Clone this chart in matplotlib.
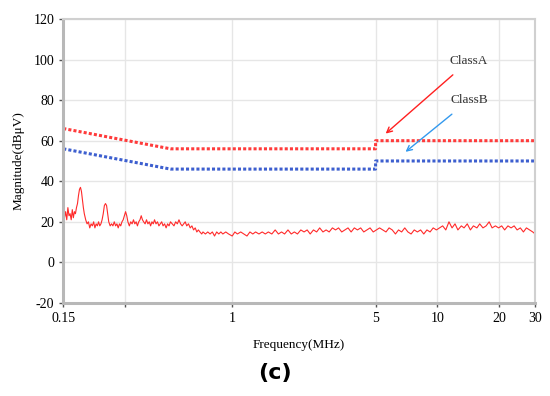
import numpy as np
import matplotlib.pyplot as plt
from matplotlib.ticker import FixedLocator, NullLocator, FixedFormatter

# limit lines (MHz, dBuV)
class_a_f = [0.15, 0.5, 5.0, 5.0, 30.0]
class_a_db = [66, 56, 56, 60, 60]
class_b_f = [0.15, 0.5, 5.0, 5.0, 30.0]
class_b_db = [56, 46, 46, 50, 50]

meas_f = [0.150, 0.152, 0.154, 0.156, 0.158, 0.160, 0.162, 0.164, 0.166, 0.168, 0.170, 0.172, 0.174,
          0.176, 0.178, 0.180, 0.182, 0.184, 0.186, 0.188, 0.190, 0.193, 0.196,
          0.199, 0.202, 0.205, 0.208, 0.211, 0.214, 0.217, 0.220, 0.223, 0.226, 0.229, 0.232, 0.235,
          0.238, 0.241, 0.244, 0.247, 0.250, 0.254, 0.258, 0.262, 0.266, 0.270, 0.274, 0.278, 0.282,
          0.286, 0.290, 0.294, 0.298, 0.302, 0.306, 0.310, 0.315, 0.320, 0.325, 0.330, 0.335, 0.340,
          0.345, 0.350, 0.355, 0.360, 0.365, 0.370, 0.376, 0.382, 0.388, 0.394, 0.400, 0.406, 0.412,
          0.418, 0.425, 0.432, 0.439, 0.446, 0.453, 0.460, 0.468, 0.476, 0.484, 0.492, 0.500, 0.510,
          0.520, 0.530, 0.540, 0.550, 0.560, 0.570, 0.580, 0.590, 0.600, 0.612, 0.624, 0.636, 0.648,
          0.660, 0.672, 0.684, 0.696, 0.71, 0.72, 0.74, 0.76, 0.78, 0.80, 0.82, 0.84, 0.86, 0.88,
          0.90, 0.93, 0.96, 1.00, 1.03, 1.06, 1.10, 1.14, 1.18, 1.22, 1.26, 1.30, 1.35, 1.40, 1.45,
          1.50, 1.56, 1.62, 1.68, 1.74, 1.80, 1.87, 1.94, 2.01, 2.08, 2.16, 2.24, 2.32, 2.40, 2.49,
          2.58, 2.67, 2.77, 2.87, 2.97, 3.08, 3.19, 3.30, 3.42, 3.54, 3.67, 3.80, 3.94, 4.08, 4.23,
          4.38, 4.54, 4.70, 4.87, 5.05, 5.23, 5.42, 5.62, 5.82, 6.03, 6.25, 6.47, 6.70, 6.94, 7.19,
          7.45, 7.72, 8.00, 8.29, 8.59, 8.90, 9.22, 9.55, 9.90, 10.25, 10.62, 11.00, 11.4, 11.8, 12.2,
          12.6, 13.1, 13.5, 14.0, 14.5, 15.0, 15.6, 16.1, 16.7, 17.3, 17.9, 18.5, 19.2, 19.9, 20.6,
          21.3, 22.1, 22.9, 23.7, 24.5, 25.4, 26.3, 27.2, 28.2, 29.2, 30.0]
meas_db = [26, 22, 25, 21, 27, 23, 24, 21, 26, 22, 25, 24, 27,
           29, 33, 36, 37, 35, 31, 27, 24, 21, 19,
           20, 17, 19, 18, 20, 17, 19, 18, 20, 18, 19, 21, 24,
           28, 29, 28, 24, 20, 18, 19, 18, 20, 18, 19, 17, 19,
           18, 20, 21, 23, 25, 23, 20, 18, 20, 19, 21, 19, 20,
           18, 20, 21, 23, 21, 20, 19, 21, 19, 20, 18, 20, 19,
           21, 19, 20, 18, 19, 20, 18, 19, 17, 19, 18, 20, 19,
           18, 20, 19, 21, 19, 18, 19, 20, 18, 19, 17, 18, 16,
           17, 15, 16, 15, 14, 15, 14, 15, 14, 15, 13, 15, 14, 15,
           14, 15, 14, 13, 15, 14, 15, 14, 13, 15, 14, 15, 14, 15, 14,
           15, 14, 16, 14, 15, 14, 16, 14, 15, 14, 16, 15, 16, 14, 16,
           15, 17, 15, 16, 15, 17, 16, 17, 15, 16, 17, 15, 17, 16, 17,
           15, 16, 17, 15, 16, 17, 16, 15, 17, 16, 14, 16, 15, 17, 15,
           14, 16, 15, 16, 14, 16, 15, 17, 16, 17, 18, 16, 20, 17, 19,
           16, 18, 17, 19, 16, 18, 17, 19, 17, 18, 20, 17, 18, 17, 18,
           16, 18, 17, 18, 16, 17, 15, 17, 16, 15, 14]

xticks = [0.15, 0.3, 1, 5, 10, 20, 30]
xlabels = ['0.15', '', '1', '5', '10', '20', '30']

plt.rcParams['font.family'] = ['Liberation Serif', 'DejaVu Serif']
plt.rcParams['axes.unicode_minus'] = False

fig = plt.figure(figsize=(5.5, 3.96), dpi=100)
ax = fig.add_axes([0.115, 0.235, 0.858, 0.717])

ax.plot(meas_f, meas_db, color='#ff2a2a', lw=0.8)
ax.plot(class_a_f, class_a_db, color='#ff3b3b', lw=2.2, ls=(0, (1, 0.7)))
ax.plot(class_b_f, class_b_db, color='#3d5fcf', lw=2.2, ls=(0, (1, 0.7)))

ax.set_xscale('log')
ax.set_xlim(0.15, 30)
ax.set_ylim(-20, 120)
ax.xaxis.set_major_locator(FixedLocator(xticks))
ax.xaxis.set_major_formatter(FixedFormatter(xlabels))
ax.xaxis.set_minor_locator(NullLocator())
ax.set_yticks(np.arange(-20, 121, 20))
ax.grid(True, color='#e6e6e6', lw=1)
ax.set_axisbelow(True)
ax.tick_params(labelsize=10, length=3, color='#555555', width=1)

for s in ['top', 'right']:
    ax.spines[s].set_color('#d0d0d0')
    ax.spines[s].set_linewidth(1.5)
for s in ['left', 'bottom']:
    ax.spines[s].set_color('#b8b8b8')
    ax.spines[s].set_linewidth(2.2)

ax.set_xlabel('Frequency(MHz)', fontsize=9.5, labelpad=10)
ax.set_ylabel('Magnitude(dB\u03bcV)', fontsize=9.5, labelpad=6)

ax.annotate('ClassA', xy=(5.6, 63.5), xytext=(14.3, 99.5), fontsize=9.5,
            ha='center', va='center', color='#333333',
            arrowprops=dict(arrowstyle='->', color='#ff2020', lw=1, shrinkA=6, shrinkB=0))
ax.annotate('ClassB', xy=(7.0, 54.5), xytext=(14.3, 80), fontsize=9.5,
            ha='center', va='center', color='#333333',
            arrowprops=dict(arrowstyle='->', color='#3399ee', lw=1, shrinkA=6, shrinkB=0))

fig.text(0.5, 0.057, '(c)', ha='center', va='center', fontsize=16,
         fontweight='bold', family='DejaVu Sans')

fig.savefig('out.png', dpi=100)
